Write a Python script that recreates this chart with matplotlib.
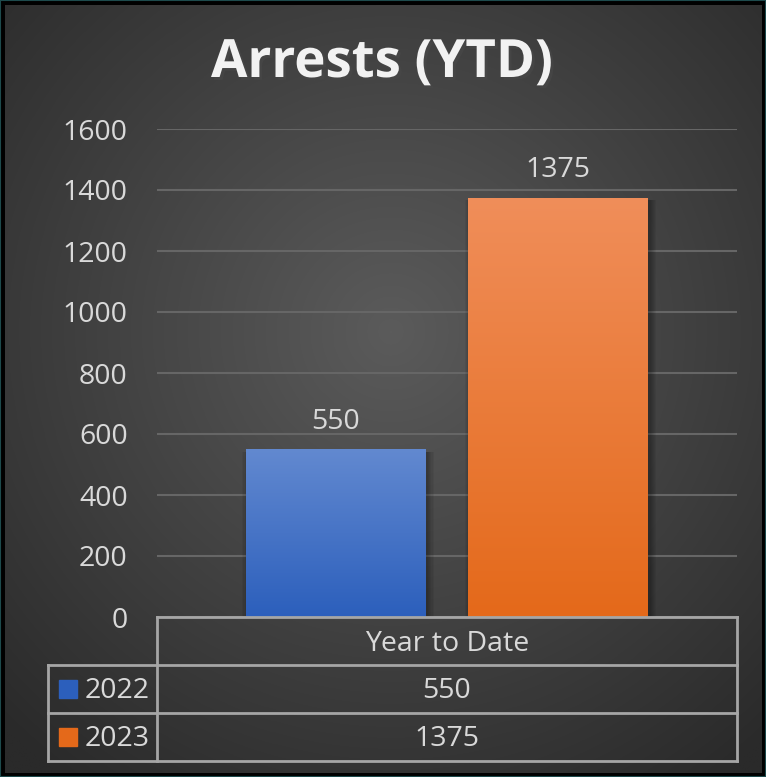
import numpy as np
import matplotlib.pyplot as plt
import matplotlib.patheffects as pe
from matplotlib.colors import LinearSegmentedColormap
from matplotlib.lines import Line2D
from matplotlib.patches import Rectangle

# data
title = 'Arrests (YTD)'
category = 'Year to Date'
series = ['2022', '2023']
values = [550, 1375]
y_ticks = [0, 200, 400, 600, 800, 1000, 1200, 1400, 1600]

W, H = 766, 777
TXT = '#d9d9d9'
LINE = '#a6a6a6'
grads = [('#6289d0', '#2c5fbc'), ('#f08e5a', '#e4691a')]
FS = 20.5

plt.rcParams['font.family'] = ['Open Sans', 'DejaVu Sans']


def fx(px):
    return px / W


def fy(py):
    return 1 - py / H


fig = plt.figure(figsize=(W / 100, H / 100), dpi=100)
fig.patch.set_facecolor('#000000')

# radial background
bg = fig.add_axes([fx(5), fy(773), fx(757), (773 - 5) / H], zorder=-5)
yy, xx = np.mgrid[0:H, 0:W]
r = np.sqrt(((xx - 390) / 560) ** 2 + ((yy - 330) / 560) ** 2)
r = np.clip(r, 0, 1)
bgcm = LinearSegmentedColormap.from_list('bg', ['#5b5b5b', '#2a2a2a'])
bg.imshow(r, cmap=bgcm, aspect='auto', extent=[0, 1, 0, 1], vmin=0, vmax=1)
bg.set_axis_off()

# thin teal outer line
fig.add_artist(Rectangle((0, 0), 1, 1, transform=fig.transFigure, fill=False,
                         edgecolor='#1d4a4c', lw=1.5))

ax = fig.add_axes([fx(157), fy(617), fx(580), (617 - 129) / H])
ax.patch.set_alpha(0)
ax.set_xlim(-0.5, 0.5)
ax.set_ylim(0, 1600)
ax.set_yticks(y_ticks)
ax.set_yticklabels([str(t) for t in y_ticks], color=TXT, fontsize=FS)
ax.tick_params(axis='y', length=0, pad=21)
ax.set_xticks([])
for s in ax.spines.values():
    s.set_visible(False)
ax.grid(axis='y', color='#666666', lw=1.5)
ax.set_axisbelow(True)

offsets = [-0.192, 0.192]
width = 0.31
grad = np.linspace(0, 1, 256).reshape(-1, 1)
for off, v, (c_top, c_bot) in zip(offsets, values, grads):
    # soft shadow
    for k in range(6):
        ax.bar(off + 0.004, v, width=width + 0.004 * k, bottom=-8,
               color='black', alpha=0.05, zorder=2)
    b = ax.bar(off, v, width=width, color=c_bot, zorder=3)[0]
    cm = LinearSegmentedColormap.from_list('g', [c_bot, c_top])
    im = ax.imshow(grad, cmap=cm, aspect='auto', origin='lower',
                   extent=[off - width / 2, off + width / 2, 0, v], zorder=4)
    im.set_clip_path(b)
    ax.text(off, v + 45, str(v), ha='center', va='bottom', color=TXT, fontsize=FS)
ax.set_xlim(-0.5, 0.5)
ax.set_ylim(0, 1600)

fig.text(fx(382), fy(63), title, ha='center', va='center', color='#f2f2f2',
         fontsize=38, fontweight='bold',
         path_effects=[pe.withSimplePatchShadow(offset=(2, -2), alpha=0.6)])

# data table
def hline(y, x0, x1):
    fig.add_artist(Line2D([fx(x0), fx(x1)], [fy(y), fy(y)], color=LINE, lw=2,
                          transform=fig.transFigure))


def vline(x, y0, y1):
    fig.add_artist(Line2D([fx(x), fx(x)], [fy(y0), fy(y1)], color=LINE, lw=2,
                          transform=fig.transFigure))


hline(617, 157, 737)
hline(665, 48, 737)
hline(713, 48, 737)
hline(761, 48, 737)
vline(157, 617, 761)
vline(737, 617, 761)
vline(48, 665, 761)

fig.text(fx(447), fy(644), category, ha='center', va='center', color=TXT, fontsize=FS)
rows_y = [689, 737]
for ry, name, v, (c_top, c_bot) in zip(rows_y, series, values, grads):
    fig.add_artist(Rectangle((fx(59), fy(ry + 9)), fx(18), 18 / H,
                             transform=fig.transFigure, color=c_bot))
    fig.text(fx(85), fy(ry + 2), name, ha='left', va='center', color=TXT, fontsize=FS)
    fig.text(fx(447), fy(ry + 2), str(v), ha='center', va='center', color=TXT, fontsize=FS)

fig.savefig('out.png', dpi=100, facecolor=fig.get_facecolor())
